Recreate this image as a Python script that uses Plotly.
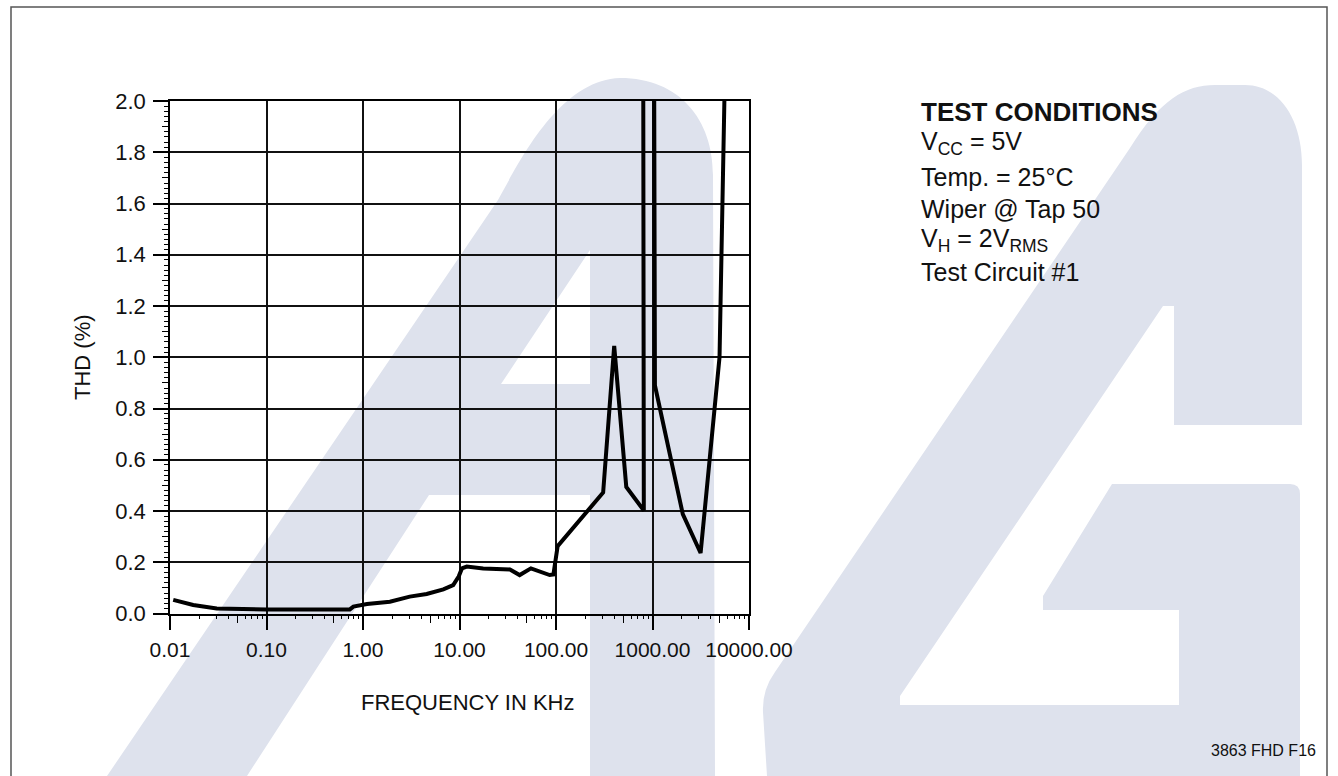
import re
import plotly.graph_objects as go

W, H = 1338, 776

# ---------------- data ----------------
freq_khz = [0.0108, 0.0174, 0.0305, 0.042, 0.1, 0.3, 0.73, 0.795, 1.1, 1.9,
            3.05, 4.57, 6.8, 8.6, 9.8, 10.6, 11.9, 17.6, 33.3, 42,
            55, 86, 94, 104, 308, 401, 535, 813, 800, 1036,
            1060, 2060, 3150, 4950, 5630, 5820]
thd_pct = [0.053, 0.033, 0.020, 0.018, 0.016, 0.016, 0.016, 0.027, 0.037, 0.046,
           0.066, 0.076, 0.094, 0.111, 0.144, 0.176, 0.183, 0.176, 0.172, 0.150,
           0.176, 0.150, 0.152, 0.263, 0.472, 1.044, 0.494, 0.402, 2.4, 2.4,
           0.89, 0.388, 0.236, 1.0, 2.0, 2.4]

x_tick_vals = [0.01, 0.1, 1, 10, 100, 1000, 10000]
x_tick_text = ["0.01", "0.10", "1.00", "10.00", "100.00", "1000.00", "10000.00"]
x_mid_ticks = [0.05, 0.5, 5, 50, 500, 5000]
y_tick_vals = [0.0, 0.2, 0.4, 0.6, 0.8, 1.0, 1.2, 1.4, 1.6, 1.8, 2.0]
y_tick_text = ["0.0", "0.2", "0.4", "0.6", "0.8", "1.0", "1.2", "1.4", "1.6", "1.8", "2.0"]
y_mid_ticks = [0.1, 0.3, 0.5, 0.7, 0.9, 1.1, 1.3, 1.5, 1.7, 1.9]

x_title = "FREQUENCY IN KHz"
y_title = "THD (%)"
test_lines = ["<b>TEST CONDITIONS</b>",
              "V<sub>CC</sub> = 5V",
              "Temp. = 25°C",
              "Wiper @ Tap 50",
              "V<sub>H</sub> = 2V<sub>RMS</sub>",
              "Test Circuit #1"]
footnote = "3863 FHD F16"

# ---------------- layout geometry (pixels) ----------------
PL, PR, PT, PB = 170, 749, 101, 613.5
FONT = "Liberation Sans, Arial, Helvetica, sans-serif"
WM = "#dee2ed"


def fx(x):
    return x / W


def fy(y):
    return 1 - y / H


def pix_path(s):
    tokens = re.findall(r'[A-Za-z]|-?\d+(?:\.\d+)?', s)
    out, pend = [], []
    for t in tokens:
        if t.isalpha():
            out.append(t)
        else:
            pend.append(float(t))
            if len(pend) == 2:
                out.append(f"{fx(pend[0]):.5f} {fy(pend[1]):.5f}")
                pend = []
    return " ".join(out)


# background watermark (decoration only)
wm_left = ("M 107 776 L 498 200 C 520 160 560 80 620 78 C 680 78 713 120 713 175 "
           "L 715 776 L 590 776 L 590 495 L 429 495 L 247 776 Z "
           "M 501 384 L 590 384 L 590 250 Z")
wm_right = ("M 767 776 L 763 712 Q 762 690 775 672 L 1130 148 C 1160 100 1185 85 1215 85 "
            "L 1245 85 C 1280 85 1302 120 1302 165 L 1302 425 L 1174 425 L 1174 306 "
            "L 1163 306 L 900 696 L 900 705 L 1179 705 L 1179 610 L 1043 610 L 1043 596 "
            "L 1112 484 L 1290 484 Q 1300 484 1300 494 L 1300 776 Z")

shapes = [
    dict(type="path", xref="paper", yref="paper", path=pix_path(wm_left),
         fillcolor=WM, line=dict(width=0), layer="below"),
    dict(type="path", xref="paper", yref="paper", path=pix_path(wm_right),
         fillcolor=WM, line=dict(width=0), layer="below"),
    dict(type="path", xref="paper", yref="paper",
         path=pix_path("M 11 790 L 11 7 L 1327 7 L 1327 790"),
         line=dict(color="#555555", width=1.5), layer="below"),
]

fig = go.Figure()
fig.add_trace(go.Scatter(x=freq_khz, y=thd_pct, mode="lines",
                         line=dict(color="black", width=4), hoverinfo="skip"))
# empty helper trace so the secondary (tick-only) axes are drawn
fig.add_trace(go.Scatter(x=[], y=[], xaxis="x2", yaxis="y2", mode="lines",
                         hoverinfo="skip", showlegend=False))

annotations = []
line_y = [112, 143, 177, 209, 240, 272]
for i, (txt, yy) in enumerate(zip(test_lines, line_y)):
    annotations.append(dict(x=fx(919), y=fy(yy), xref="paper", yref="paper",
                            text=txt, showarrow=False, xanchor="left", yanchor="middle",
                            font=dict(family=FONT, size=26 if i == 0 else 25, color="#111")))
annotations.append(dict(x=fx(468), y=fy(702), xref="paper", yref="paper", text=x_title,
                        showarrow=False, xanchor="center", yanchor="middle",
                        font=dict(family=FONT, size=22, color="#111")))
annotations.append(dict(x=fx(83), y=fy(357), xref="paper", yref="paper", text=y_title,
                        showarrow=False, xanchor="center", yanchor="middle", textangle=-90,
                        font=dict(family=FONT, size=22, color="#111")))
annotations.append(dict(x=fx(1318), y=fy(750), xref="paper", yref="paper", text=footnote,
                        showarrow=False, xanchor="right", yanchor="middle",
                        font=dict(family=FONT, size=16, color="#111")))

fig.update_layout(
    template="none",
    width=W, height=H, autosize=False,
    margin=dict(l=0, r=0, t=0, b=0, pad=0),
    paper_bgcolor="white", plot_bgcolor="rgba(0,0,0,0)",
    showlegend=False,
    shapes=shapes, annotations=annotations,
    font=dict(family=FONT, color="#111"),
    xaxis2=dict(type="log", range=[-2, 4], domain=[fx(PL), fx(PR)], overlaying="x",
                anchor="y", side="bottom", automargin=False,
                tickmode="array", tickvals=x_mid_ticks, showticklabels=False,
                ticks="outside", ticklen=8, tickwidth=1.2, tickcolor="black",
                showgrid=False, showline=False, zeroline=False, fixedrange=True),
    yaxis2=dict(range=[0, 2], domain=[fy(PB), fy(PT)], overlaying="y",
                anchor="x", side="left", automargin=False,
                tickmode="array", tickvals=y_mid_ticks, showticklabels=False,
                ticks="outside", ticklen=7, tickwidth=1.2, tickcolor="black",
                showgrid=False, showline=False, zeroline=False, fixedrange=True),
)

fig.update_layout(xaxis=dict(
    type="log", range=[-2, 4], domain=[fx(PL), fx(PR)], automargin=False,
    tickmode="array", tickvals=x_tick_vals, ticktext=x_tick_text,
    ticks="outside", ticklen=15, tickwidth=1.5, tickcolor="black",
    tickfont=dict(family=FONT, size=21, color="#111"), ticklabelstandoff=2,
    showgrid=True, gridcolor="#111", gridwidth=1.5,
    showline=True, linecolor="black", linewidth=1.5, mirror=True,
    zeroline=False, fixedrange=True,
    minor=dict(ticks="outside", ticklen=4, tickwidth=1.2, tickcolor="black",
               dtick="D1", showgrid=False),
))
fig.update_layout(yaxis=dict(
    range=[0, 2], domain=[fy(PB), fy(PT)], automargin=False,
    tickmode="array", tickvals=y_tick_vals, ticktext=y_tick_text,
    ticks="outside", ticklen=15, tickwidth=1.5, tickcolor="black",
    tickfont=dict(family=FONT, size=22, color="#111"), ticklabelstandoff=3,
    showgrid=True, gridcolor="#111", gridwidth=1.5,
    showline=True, linecolor="black", linewidth=1.5, mirror=True,
    zeroline=False, fixedrange=True,
    minor=dict(ticks="outside", ticklen=4, tickwidth=1.2, tickcolor="black",
               dtick=0.02, showgrid=False),
))

fig.write_html("out.html", config=dict(displayModeBar=False),
               post_script="document.body.style.margin='0';document.body.style.overflow='hidden';")
